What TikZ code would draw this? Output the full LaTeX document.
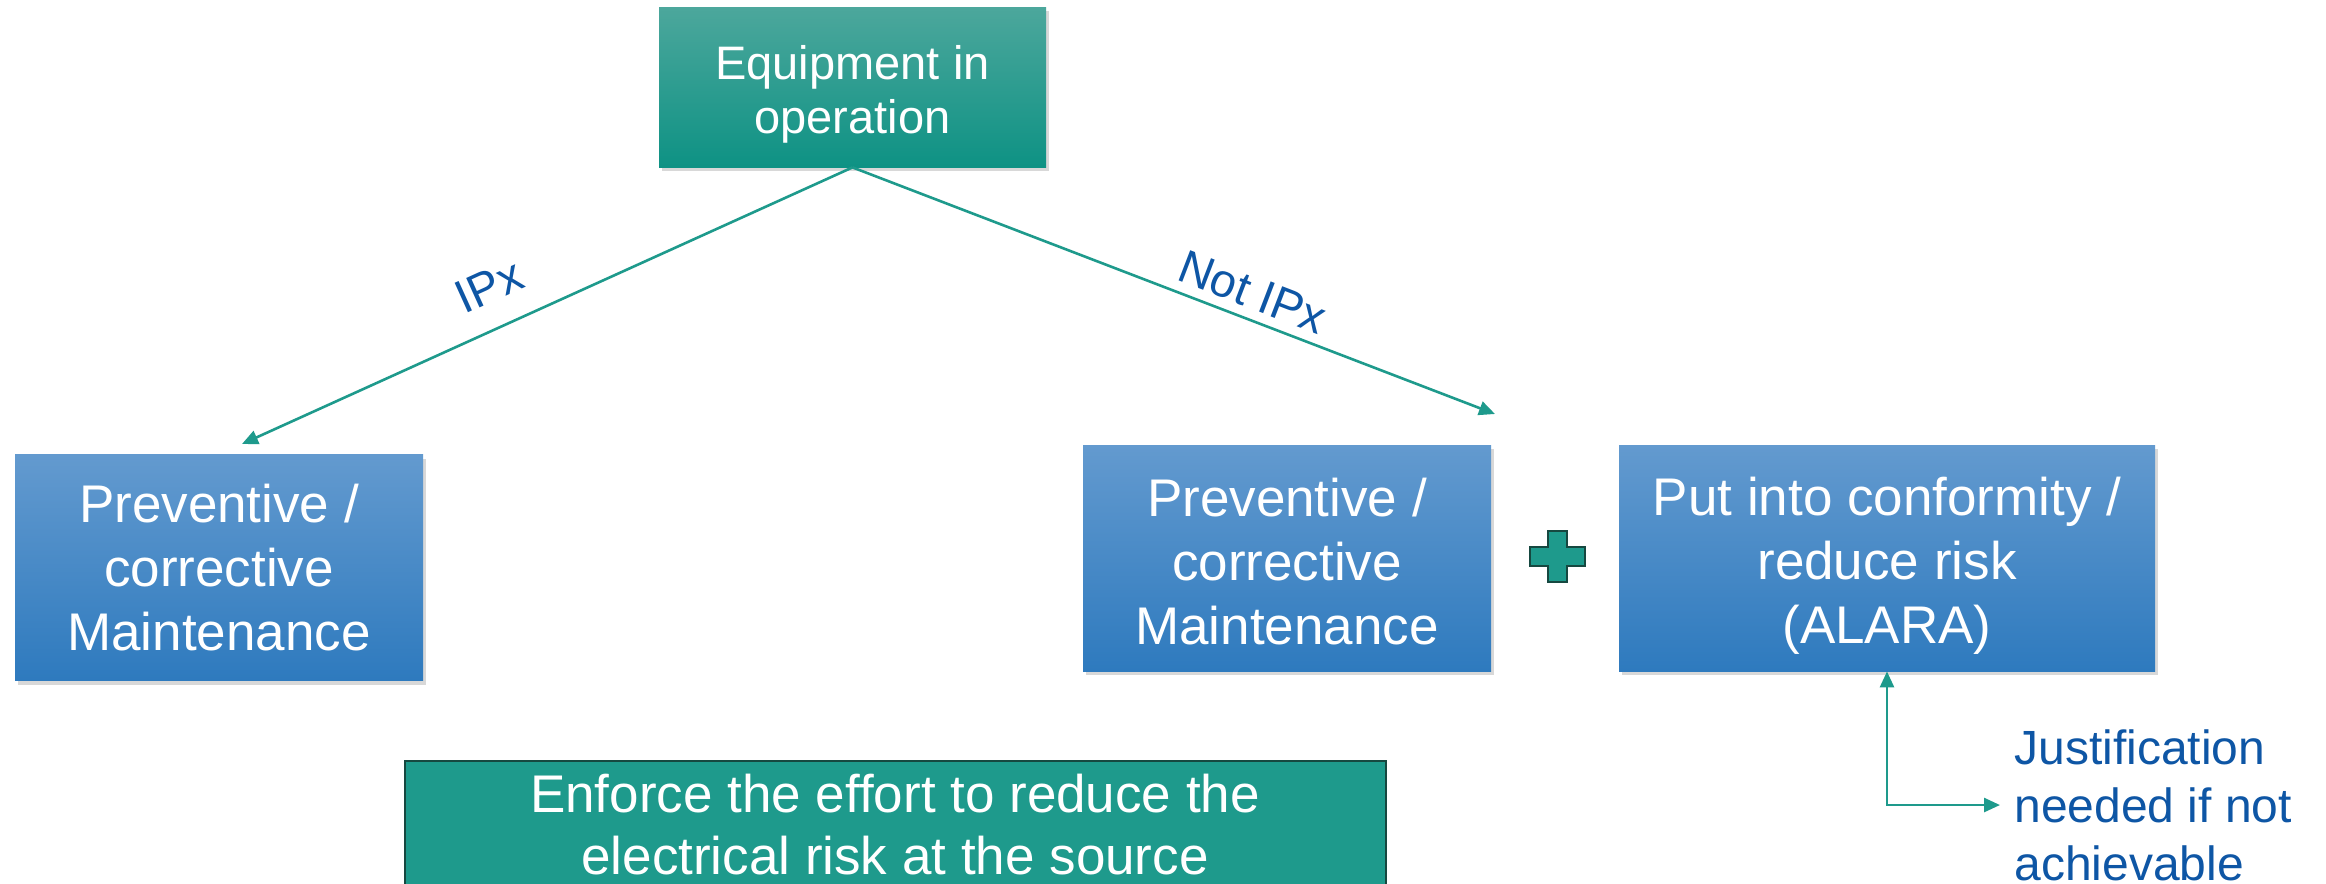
\documentclass[tikz,border=0pt]{standalone}
\usepackage{fontspec}
\setmainfont{Liberation Sans}
\usetikzlibrary{shadows,arrows.meta}
\definecolor{tealtop}{RGB}{76,167,156}
\definecolor{tealbot}{RGB}{14,146,132}
\definecolor{bluetop}{RGB}{99,154,207}
\definecolor{bluebot}{RGB}{46,122,190}
\definecolor{tealfill}{RGB}{30,154,140}
\definecolor{tealdark}{RGB}{22,72,64}
\definecolor{arrowteal}{RGB}{30,154,140}
\definecolor{labelblue}{RGB}{14,86,165}
\begin{document}
\begin{tikzpicture}[x=0.5pt,y=-0.5pt,
  box/.style={rectangle, inner sep=0pt, align=center, text=white,
    drop shadow={opacity=0.3, shadow xshift=1.5pt, shadow yshift=-2pt}},
  greenbox/.style={box, top color=tealtop, bottom color=tealbot,
    font=\fontsize{23.5}{27}\selectfont, minimum width=193.5pt, minimum height=80pt},
  bluebox/.style={box, top color=bluetop, bottom color=bluebot,
    font=\fontsize{26.5}{32}\selectfont, minimum height=113pt},
  notebox/.style={rectangle, inner sep=0pt, align=center, text=white, fill=tealfill,
    draw=tealdark, line width=1pt, font=\fontsize{26.5}{31}\selectfont,
    minimum width=490.5pt, minimum height=64pt},
  conn/.style={draw=arrowteal, line width=1.3pt, >={Triangle[length=8pt,width=7pt]}},
  lbl/.style={text=labelblue, font=\fontsize{23.5}{27}\selectfont, inner sep=0pt},
  plusshape/.style={fill=tealfill, draw=tealdark, line width=1pt}
]
\fill[white] (0,0) rectangle (2326,884);
\useasboundingbox (0,0) rectangle (2326,884);
\clip (0,0) rectangle (2326,884);

\node[greenbox] (top) at (852.5,87) {\rule{0pt}{24pt}Equipment in\\operation};
\node[bluebox, minimum width=204pt] (left) at (219,567.5) {Preventive /\\corrective\\Maintenance};
\node[bluebox, minimum width=204pt] (mid) at (1287,558) {\rule{0pt}{22.3pt}Preventive /\\corrective\\Maintenance};
\node[bluebox, minimum width=268pt] (right) at (1887,558) {\rule{0pt}{26.5pt}Put into conformity /\\reduce risk\\(ALARA)};
\node[notebox] (note) at (895,825) {Enforce the effort to reduce the\\electrical risk at the source};
\node[lbl, font=\fontsize{24}{29}\selectfont, align=left, anchor=north west] (just) at (2014,729) {Justification\\needed if not\\achievable};

% plus sign
\draw[plusshape] (1529.5,546.5) -- (1547.5,546.5) -- (1547.5,530.5) -- (1566.5,530.5) -- (1566.5,546.5)
  -- (1584.5,546.5) -- (1584.5,565.5) -- (1566.5,565.5) -- (1566.5,581.5) -- (1547.5,581.5)
  -- (1547.5,565.5) -- (1529.5,565.5) -- cycle;

\coordinate (lend) at (242,444);
\coordinate (rend) at (1495,414);
\coordinate (jend) at ([xshift=-7pt]just.west);

\draw[conn, ->] (top.south) -- (lend) node[lbl, pos=0.567, sloped, above=12.25pt] {IPx};
\draw[conn, ->] (top.south) -- (rend) node[lbl, pos=0.608, sloped, above=4.5pt] {Not IPx};
\draw[conn, <->] (right.south) |- (jend);
\end{tikzpicture}
\end{document}
